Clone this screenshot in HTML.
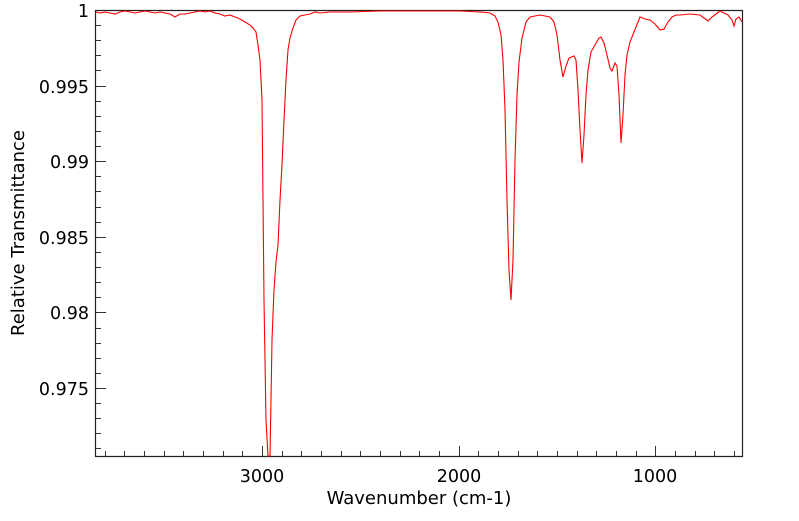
<!DOCTYPE html>
<html><head><style>body{margin:0;background:#fff}</style></head><body>
<svg width="799" height="516" xmlns="http://www.w3.org/2000/svg" style="font-family:'DejaVu Sans','Liberation Sans',sans-serif">
<rect width="799" height="516" fill="#fff"/>
<path d="M95.5,10.5 H742.5 V456.5 H95.5 Z" fill="none" stroke="#222" stroke-width="1.2"/>
<polyline fill="none" stroke="#f00" stroke-width="1.1" points="
96,12 100,13 105,12 110,13 115,14 120,12 125,11 130,12 135,13 140,12 145,11 150,12 155,13 160,12 165,13 170,14 175,17 180,14 185,14 190,13 195,12 200,11 205,12 210,11 215,13 220,14 225,16 230,15 235,17 240,19 245,22 250,25 253,28 256,32 258,45 260,60 262,100 263,200 264,300 266,420 268,456 270,456 271,400 272,340 274,290 276,262 278,245 280,200 282,165 284,120 286,80 288,50 290,38 293,28 296,20 300,16 305,15 310,14 315,12 320,13 330,12 350,12 380,11 420,11 460,11 480,12 490,13 495,16 498,22 501,35 503,60 505,110 507,200 509,270 511,300 513,260 515,160 517,95 519,62 522,38 526,22 530,17 535,16 540,15 545,16 550,17 554,22 557,35 560,60 563,77 566,66 569,58 574,56 576,60 578,90 580,130 582,163 584,135 586,95 588,70 591,52 595,45 599,38 601,37 604,43 607,55 610,68 612,71 615,63 617,66 619,95 621,143 623,115 625,75 627,55 630,42 634,32 638,22 640,17 645,19 650,20 655,24 660,30 664,29 668,22 672,17 676,15 680,15 690,14 700,15 704,18 708,21 712,17 716,14 720,11 724,13 728,15 732,20 734,26 736,19 739,17 742,22"/>
<g fill="#000" font-size="17.5">
<text x="89" y="17" text-anchor="end">1</text>
<text x="89" y="93" text-anchor="end">0.995</text>
<text x="89" y="168" text-anchor="end">0.99</text>
<text x="89" y="244" text-anchor="end">0.985</text>
<text x="89" y="319" text-anchor="end">0.98</text>
<text x="89" y="395" text-anchor="end">0.975</text>
<text x="262" y="482" text-anchor="middle">3000</text>
<text x="459" y="482" text-anchor="middle">2000</text>
<text x="655" y="482" text-anchor="middle">1000</text>
<text x="419" y="504" text-anchor="middle" font-size="18">Wavenumber (cm-1)</text>
<text transform="translate(24,233) rotate(-90)" text-anchor="middle" font-size="18">Relative Transmittance</text>
</g>
<g stroke="#333" stroke-width="1">
<path d="M96,25.5h5M96,40.5h5M96,55.5h5M96,70.5h5M96,86.5h10M96,101.5h5M96,116.5h5M96,131.5h5M96,146.5h5M96,161.5h10M96,176.5h5M96,191.5h5M96,207.5h5M96,222.5h5M96,237.5h10M96,252.5h5M96,267.5h5M96,282.5h5M96,297.5h5M96,312.5h10M96,328.5h5M96,343.5h5M96,358.5h5M96,373.5h5M96,388.5h10M96,403.5h5M96,418.5h5M96,433.5h5M96,448.5h5"/>
<path d="M105.5,456v-5M124.5,456v-5M144.5,456v-5M164.5,456v-5M183.5,456v-5M203.5,456v-5M223.5,456v-5M242.5,456v-5M262.5,456v-10M282.5,456v-5M301.5,456v-5M321.5,456v-5M341.5,456v-5M360.5,456v-5M380.5,456v-5M400.5,456v-5M419.5,456v-5M439.5,456v-5M459.5,456v-10M478.5,456v-5M498.5,456v-5M518.5,456v-5M537.5,456v-5M557.5,456v-5M577.5,456v-5M596.5,456v-5M616.5,456v-5M636.5,456v-5M655.5,456v-10M675.5,456v-5M695.5,456v-5M714.5,456v-5M734.5,456v-5"/>
</g>
</svg>
</body></html>
